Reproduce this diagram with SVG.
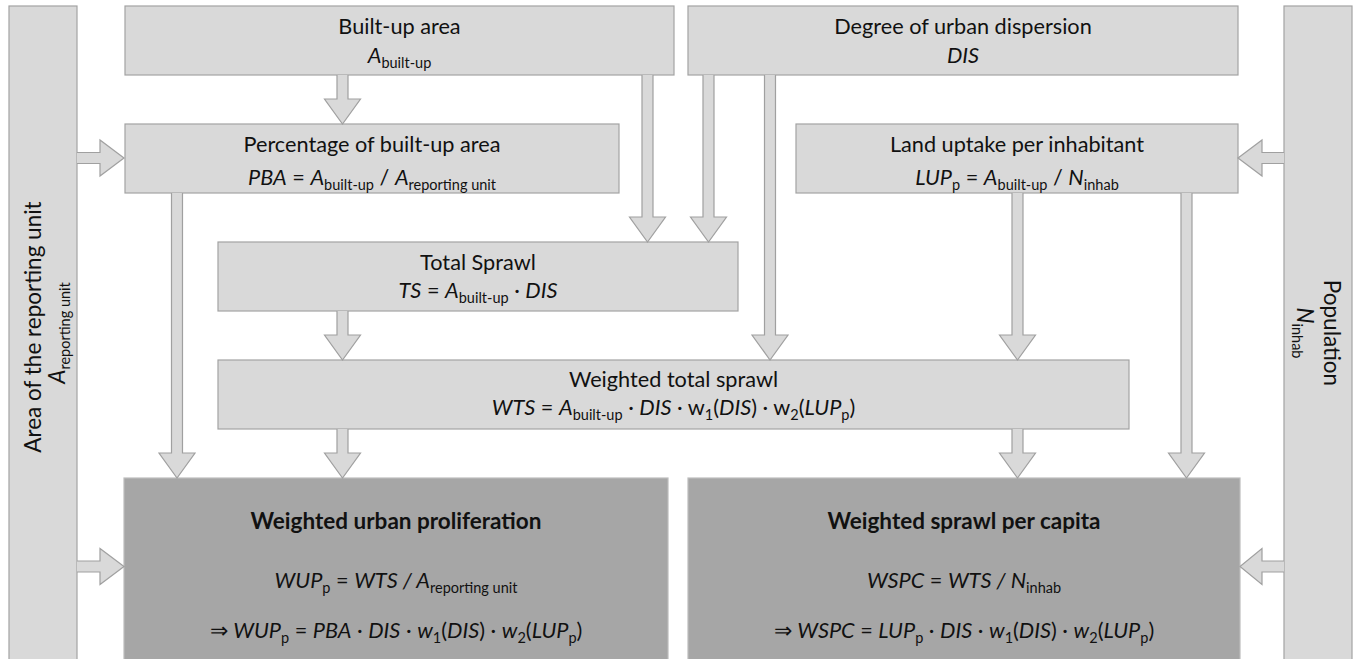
<svg xmlns="http://www.w3.org/2000/svg" width="1356" height="659" viewBox="0 0 1356 659">
<style>
.box{fill:#d9d9d9;stroke:#a3a3a3;stroke-width:1.2}
.dark{fill:#a6a6a6;stroke:#bdbdbd;stroke-width:1.2}
.arr{fill:#d9d9d9;stroke:#a0a0a0;stroke-width:1.2;stroke-linejoin:miter}
text{font-family:Lato,"Liberation Sans",sans-serif;font-size:21.7px;fill:#111}
.c{text-anchor:middle}
.i{font-style:italic}
.s{font-size:14.5px;font-style:normal}
.b{font-weight:bold;font-size:22.5px}
.r{font-size:22.5px}
</style>
<rect x="0" y="0" width="1356" height="659" fill="#ffffff"/>

<g id="area-reporting-unit">
<rect class="box" x="9" y="6" width="68" height="670"/>
<text class="c r" transform="translate(41,327) rotate(-90)">Area of the reporting unit</text>
<text class="c r" transform="translate(65,333) rotate(-90)"><tspan class="i">A</tspan><tspan class="s" dy="5">reporting unit</tspan></text>
</g>

<g id="population">
<rect class="box" x="1284" y="6" width="68" height="670"/>
<text class="c r" transform="translate(1324,333) rotate(90)">Population</text>
<text class="c r" transform="translate(1297,333) rotate(90)"><tspan class="i">N</tspan><tspan class="s" dy="5">inhab</tspan></text>
</g>

<g id="built-up-area">
<rect class="box" x="125" y="6" width="549" height="69"/>
<text class="c" x="399.5" y="34">Built-up area</text>
<text class="c" x="399.5" y="63"><tspan class="i">A</tspan><tspan class="s" dy="5">built-up</tspan></text>
</g>

<g id="degree-dispersion">
<rect class="box" x="688" y="6" width="550" height="69"/>
<text class="c" x="963" y="34">Degree of urban dispersion</text>
<text class="c i" x="963" y="63">DIS</text>
</g>

<g id="percentage-built-up">
<rect class="box" x="125" y="124" width="494" height="69"/>
<text class="c" x="372" y="152">Percentage of built-up area</text>
<text class="c" x="372" y="185"><tspan class="i">PBA</tspan> = <tspan class="i">A</tspan><tspan class="s" dy="5">built-up</tspan><tspan dy="-5"> / </tspan><tspan class="i">A</tspan><tspan class="s" dy="5">reporting unit</tspan></text>
</g>

<g id="land-uptake">
<rect class="box" x="796" y="124" width="442" height="69"/>
<text class="c" x="1017" y="152">Land uptake per inhabitant</text>
<text class="c" x="1017" y="185"><tspan class="i">LUP</tspan><tspan class="s" dy="5">p</tspan><tspan dy="-5"> = </tspan><tspan class="i">A</tspan><tspan class="s" dy="5">built-up</tspan><tspan dy="-5"> / </tspan><tspan class="i">N</tspan><tspan class="s" dy="5">inhab</tspan></text>
</g>

<g id="total-sprawl">
<rect class="box" x="218" y="242" width="520" height="69"/>
<text class="c" x="478" y="270">Total Sprawl</text>
<text class="c" x="478" y="298"><tspan class="i">TS</tspan> = <tspan class="i">A</tspan><tspan class="s" dy="5">built-up</tspan><tspan dy="-5"> · </tspan><tspan class="i">DIS</tspan></text>
</g>

<g id="weighted-total-sprawl">
<rect class="box" x="218" y="360" width="911" height="69"/>
<text class="c" x="673.5" y="387">Weighted total sprawl</text>
<text class="c" x="673.5" y="415"><tspan class="i">WTS</tspan> = <tspan class="i">A</tspan><tspan class="s" dy="5">built-up</tspan><tspan dy="-5"> · </tspan><tspan class="i">DIS</tspan> · w<tspan class="s" dy="5">1</tspan><tspan dy="-5">(</tspan><tspan class="i">DIS</tspan>) · w<tspan class="s" dy="5">2</tspan><tspan dy="-5">(</tspan><tspan class="i">LUP</tspan><tspan class="s" dy="5">p</tspan><tspan dy="-5">)</tspan></text>
</g>

<g id="weighted-urban-proliferation">
<rect class="dark" x="124" y="478" width="544" height="200"/>
<text class="c b" x="396" y="529">Weighted urban proliferation</text>
<text class="c" x="396" y="588"><tspan class="i">WUP</tspan><tspan class="s" dy="5">p</tspan><tspan dy="-5"> = </tspan><tspan class="i">WTS / A</tspan><tspan class="s" dy="5">reporting unit</tspan></text>
<text class="c" x="396" y="638">⇒ <tspan class="i">WUP</tspan><tspan class="s" dy="5">p</tspan><tspan dy="-5"> = </tspan><tspan class="i">PBA</tspan> · <tspan class="i">DIS</tspan> · <tspan class="i">w</tspan><tspan class="s" dy="5">1</tspan><tspan dy="-5">(</tspan><tspan class="i">DIS</tspan>) · <tspan class="i">w</tspan><tspan class="s" dy="5">2</tspan><tspan dy="-5">(</tspan><tspan class="i">LUP</tspan><tspan class="s" dy="5">p</tspan><tspan dy="-5">)</tspan></text>
</g>

<g id="weighted-sprawl-per-capita">
<rect class="dark" x="688" y="478" width="552" height="200"/>
<text class="c b" x="964" y="529">Weighted sprawl per capita</text>
<text class="c" x="964" y="588"><tspan class="i">WSPC</tspan> = <tspan class="i">WTS / N</tspan><tspan class="s" dy="5">inhab</tspan></text>
<text class="c" x="964" y="638">⇒ <tspan class="i">WSPC</tspan> = <tspan class="i">LUP</tspan><tspan class="s" dy="5">p</tspan><tspan dy="-5"> · </tspan><tspan class="i">DIS</tspan> · <tspan class="i">w</tspan><tspan class="s" dy="5">1</tspan><tspan dy="-5">(</tspan><tspan class="i">DIS</tspan>) · <tspan class="i">w</tspan><tspan class="s" dy="5">2</tspan><tspan dy="-5">(</tspan><tspan class="i">LUP</tspan><tspan class="s" dy="5">p</tspan><tspan dy="-5">)</tspan></text>
</g>

<g id="connectors">
<path class="arr" d="M337,75 V99 H324.5 L342.5,124 L360.5,99 H348 V75"/>
<path class="arr" d="M642,75 V217 H629.5 L647.5,242 L665.5,217 H653 V75"/>
<path class="arr" d="M703,75 V217 H690.5 L708.5,242 L726.5,217 H714 V75"/>
<path class="arr" d="M764.5,75 V335 H752 L770,360 L788,335 H775.5 V75"/>
<path class="arr" d="M171.5,193 V453 H159 L177,478 L195,453 H182.5 V193"/>
<path class="arr" d="M337,311 V335 H324.5 L342.5,360 L360.5,335 H348 V311"/>
<path class="arr" d="M337,429 V453 H324.5 L342.5,478 L360.5,453 H348 V429"/>
<path class="arr" d="M1012,193 V335 H999.5 L1017.5,360 L1035.5,335 H1023 V193"/>
<path class="arr" d="M1012,429 V453 H999.5 L1017.5,478 L1035.5,453 H1023 V429"/>
<path class="arr" d="M1181,193 V453 H1168.5 L1186.5,478 L1204.5,453 H1192 V193"/>
<path class="arr" d="M77,152.5 H100 V140 L124,158 L100,176 V163.5 H77"/>
<path class="arr" d="M77,561 H100 V548.5 L124,566.5 L100,584.5 V572 H77"/>
<path class="arr" d="M1284,152.5 H1262 V140 L1238,158 L1262,176 V163.5 H1284"/>
<path class="arr" d="M1284,561 H1262 V548.5 L1240,566.5 L1262,584.5 V572 H1284"/>
</g>
</svg>
